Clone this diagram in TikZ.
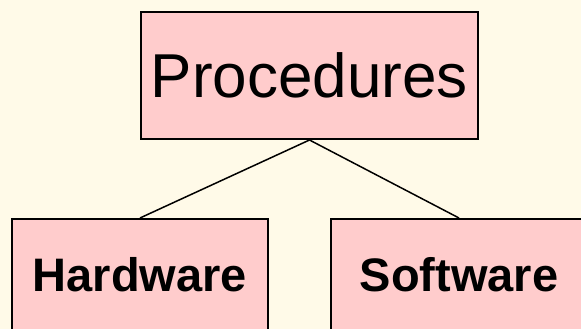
\documentclass[tikz,border=0pt]{standalone}
\usepackage{fontspec}
\setmainfont{Liberation Sans}
\usepackage{tikz}
\usepackage{xcolor}
\usetikzlibrary{positioning}
\definecolor{creambg}{RGB}{255,250,232}
\definecolor{boxpink}{RGB}{255,204,204}

\begin{document}
\begin{tikzpicture}[x=1pt,y=-1pt,
    pinkbox/.style={draw=black,fill=boxpink,line width=2pt,inner sep=0pt},
    leafbox/.style={pinkbox,minimum width=256pt,minimum height=120pt,
        text height=34pt,text depth=10pt,
        font=\bfseries\fontsize{47}{52}\selectfont},
    treeline/.style={draw=black,line width=1.5pt}]
  \useasboundingbox (0,0) rectangle (581,329);
  \clip (0,0) rectangle (581,329);
  \fill[creambg] (0,0) rectangle (581,329);

  % oberer Kasten
  \node[pinkbox,minimum width=337pt,minimum height=127pt,
        text height=44pt,text depth=0pt,
        font=\fontsize{62}{70}\selectfont] (proc) at (309.5,75.5) {Procedures};

  % untere Kaesten
  \node[leafbox] (hw) at (140,279) {Hardware};
  \node[leafbox] (sw) at (459,279) {Software};

  \draw[treeline] (proc.south) -- (hw.north);
  \draw[treeline] (proc.south) -- (sw.north);
\end{tikzpicture}
\end{document}
